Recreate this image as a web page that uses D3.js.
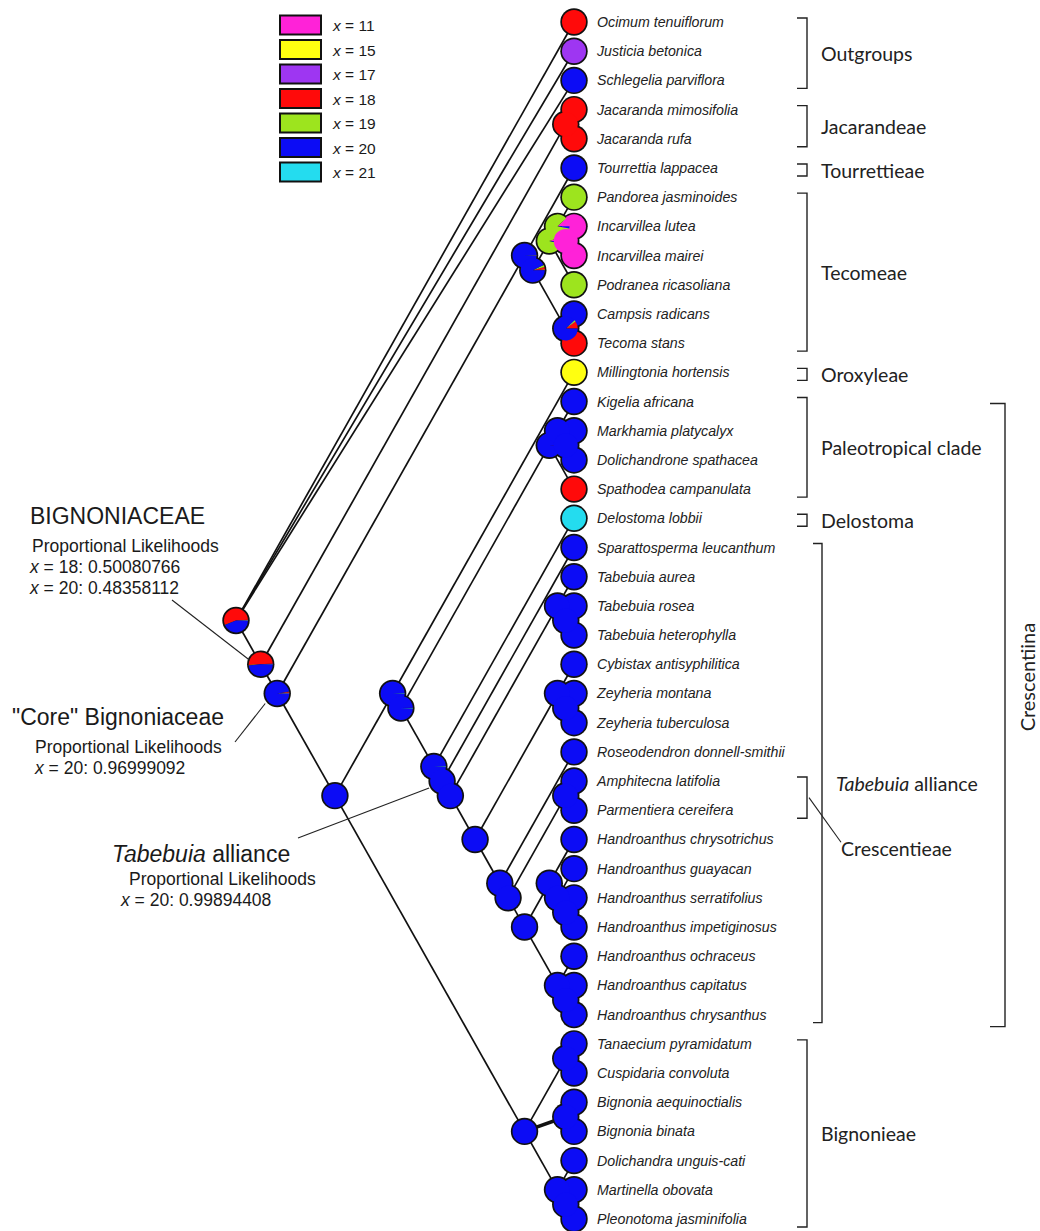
<!DOCTYPE html>
<html>
<head>
<meta charset="UTF-8">
<title>Bignoniaceae chromosome number reconstruction</title>
<script src="https://d3js.org/d3.v7.min.js"></script>
<style>
  body { margin: 0; background: #fff; }
  .tip text { font: italic 14.2px "Liberation Sans", Arial, sans-serif; fill: #222; }
  .clade text { font: 19.5px Lato, sans-serif; fill: #222; }
  .note text { font-family: "Liberation Sans", Arial, sans-serif; fill: #1a1a1a; }
  .legend text { font: 15.5px "Liberation Sans", Arial, sans-serif; fill: #1a1a1a; }
</style>
</head>
<body>
<script>
// ---- data ----
const taxa = [
  "Ocimum tenuiflorum", "Justicia betonica", "Schlegelia parviflora",
  "Jacaranda mimosifolia", "Jacaranda rufa", "Tourrettia lappacea",
  "Pandorea jasminoides", "Incarvillea lutea", "Incarvillea mairei",
  "Podranea ricasoliana", "Campsis radicans", "Tecoma stans",
  "Millingtonia hortensis", "Kigelia africana", "Markhamia platycalyx",
  "Dolichandrone spathacea", "Spathodea campanulata", "Delostoma lobbii",
  "Sparattosperma leucanthum", "Tabebuia aurea", "Tabebuia rosea",
  "Tabebuia heterophylla", "Cybistax antisyphilitica", "Zeyheria montana",
  "Zeyheria tuberculosa", "Roseodendron donnell-smithii", "Amphitecna latifolia",
  "Parmentiera cereifera", "Handroanthus chrysotrichus", "Handroanthus guayacan",
  "Handroanthus serratifolius", "Handroanthus impetiginosus", "Handroanthus ochraceus",
  "Handroanthus capitatus", "Handroanthus chrysanthus", "Tanaecium pyramidatum",
  "Cuspidaria convoluta", "Bignonia aequinoctialis", "Bignonia binata",
  "Dolichandra unguis-cati", "Martinella obovata", "Pleonotoma jasminifolia"
];

// chromosome number x observed at each tip
const tipState = [18, 17, 20, 18, 18, 20, 19, 11, 11, 19, 20, 18, 15, 20, 20, 20, 18, 21,
  20, 20, 20, 20, 20, 20, 20, 20, 20, 20, 20, 20, 20, 20, 20, 20, 20, 20, 20, 20, 20, 20, 20, 20];

const states = [11, 15, 17, 18, 19, 20, 21];
const stateColors = ["#ff22d8", "#ffff10", "#9e36f2", "#ff0a0a", "#9de41e", "#0c0cf5", "#24dcef"];

// topology, tips given by their index in taxa
const tree = [0, 1, 2,
  [[3, 4],
   [[5, [[[6, [7, 8]], 9], [10, 11]]],
    [[12, [[[13, [14, 15]], 16],
           [17, [18, [[19, [20, 21]],
                      [[22, [23, 24]],
                       [25, [[26, 27],
                             [[28, [29, [30, 31]]], [32, [33, 34]]]]]]]]]]],
     [[35, 36], [37, 38], [39, [40, 41]]]]]]];

// proportional likelihoods at internal nodes (key = first-last tip), order as states
const nodePies = [
  ["0-41",  [0.004, 0.002, 0.003, 0.55, 0.003, 0.435, 0.003]],
  ["3-41",  [0.006, 0.002, 0.002, 0.50080766, 0.004, 0.48358112, 0.002]],
  ["3-4",   [0, 0, 0, 1, 0, 0, 0]],
  ["5-41",  [0.008, 0.002, 0.002, 0.012, 0.004, 0.96999092, 0.002]],
  ["5-11",  [0.004, 0, 0, 0.002, 0.002, 0.99, 0.002]],
  ["6-11",  [0.004, 0.008, 0, 0.03, 0.03, 0.926, 0.002]],
  ["6-9",   [0.05, 0, 0, 0, 0.92, 0.03, 0]],
  ["6-8",   [0.12, 0, 0, 0, 0.85, 0.03, 0]],
  ["7-8",   [1, 0, 0, 0, 0, 0, 0]],
  ["10-11", [0, 0, 0, 0.1, 0.02, 0.88, 0]],
  ["12-34", [0.004, 0, 0, 0, 0, 0.99, 0.006]],
  ["13-34", [0.004, 0, 0, 0, 0, 0.99, 0.006]],
  ["13-16", [0.01, 0, 0, 0, 0, 0.99, 0]],
  ["17-34", [0.003, 0, 0, 0, 0, 0.99, 0.007]],
  ["18-34", [0.0005, 0, 0, 0.0005, 0, 0.99894408, 0.00005]]
];

const thickBranches = ["37-38"];

// [label, first tip, last tip, column, label dy]
const clades = [
  ["Outgroups", 0, 2, 0, 0],
  ["Jacarandeae", 3, 4, 0, 0],
  ["Tourrettieae", 5, 5, 0, 0],
  ["Tecomeae", 6, 11, 0, 0],
  ["Oroxyleae", 12, 12, 0, 0],
  ["Paleotropical clade", 13, 16, 0, 0],
  ["Delostoma", 17, 17, 0, 0],
  ["*Tabebuia* alliance", 18, 34, 1, 0],
  ["Bignonieae", 35, 41, 0, 0],
  ["Crescentiina", 13, 34, 2, -38]
];
const subClade = ["Crescentieae", 26, 27];

const legendRows = states.map((s, i) => ({ label: " = " + s, color: stateColors[i] }));

// ---- layout ----
const W = 1040, H = 1231;
const svg = d3.select("body").append("svg").attr("width", W).attr("height", H);

const y = d3.scaleLinear().domain([0, taxa.length - 1]).range([22, 1219]);
const x = d3.scaleLinear().domain([0, taxa.length - 1]).range([574, 236]);

const root = d3.hierarchy(tree, d => Array.isArray(d) ? d : null);
root.eachAfter(n => {
  if (!n.children) { n.lo = n.hi = n.data; }
  else { n.lo = d3.min(n.children, c => c.lo); n.hi = d3.max(n.children, c => c.hi); }
});
root.each(n => {
  n.key = n.lo + "-" + n.hi;
  n.px = x(n.hi - n.lo);
  n.py = (y(n.lo) + y(n.hi)) / 2;
});
const pieMap = new Map(nodePies);
const byKey = new Map(root.descendants().map(n => [n.key, n]));

// branches
svg.append("g").attr("class", "branches")
  .selectAll("line").data(root.links()).join("line")
  .attr("x1", d => d.source.px).attr("y1", d => d.source.py)
  .attr("x2", d => d.target.px).attr("y2", d => d.target.py)
  .attr("stroke", "#111")
  .attr("stroke-width", d => thickBranches.includes(d.target.key) ? 3.6 : 1.7);

// pies: tips first, then nodes root-first so deeper nodes sit on top
const leaves = root.leaves();
const internals = root.descendants().filter(n => n.children);
const marks = leaves.concat(internals);
marks.forEach(n => {
  if (!n.children) n.probs = states.map(s => s === tipState[n.data] ? 1 : 0);
  else n.probs = pieMap.get(n.key) || states.map(s => s === 20 ? 1 : 0);
});

const R = 12;
svg.append("g").attr("class", "outlines")
  .selectAll("circle").data(marks).join("circle")
  .attr("cx", d => d.px).attr("cy", d => d.py).attr("r", R + 1.7)
  .attr("fill", "#111");

const pie = d3.pie().sort(null).value(d => d)
  .startAngle(Math.PI / 2).endAngle(Math.PI / 2 - 2 * Math.PI);
const arc = d3.arc().innerRadius(0).outerRadius(R);

const pg = svg.append("g").attr("class", "pies")
  .selectAll("g").data(marks).join("g")
  .attr("transform", d => `translate(${d.px},${d.py})`);
pg.selectAll("path").data(d => pie(d.probs).filter(a => a.value > 0)).join("path")
  .attr("d", arc)
  .attr("fill", a => stateColors[a.index]);

// tip labels
svg.append("g").attr("class", "tip")
  .selectAll("text").data(leaves).join("text")
  .attr("x", 597).attr("y", d => d.py)
  .attr("dominant-baseline", "central")
  .text(d => taxa[d.data]);

// clade brackets
const colX = [807, 822, 1005], colTick = [10, 9, 15];
const cg = svg.append("g").attr("class", "clade");
function richText(sel, str) {
  str.split("*").forEach((part, i) => {
    if (part) sel.append("tspan").attr("font-style", i % 2 ? "italic" : null).text(part);
  });
}
clades.forEach(([name, a, b, col, dy]) => {
  const top = y(a) - 4 + (col === 2 ? 6 : 0), bot = y(b) + 8 + (col === 2 ? 4 : 0), bx = colX[col];
  cg.append("path")
    .attr("d", `M${bx - colTick[col]},${top}H${bx}V${bot}H${bx - colTick[col]}`)
    .attr("fill", "none").attr("stroke", "#222").attr("stroke-width", 1.4);
  const mid = (top + bot) / 2 + dy;
  if (col === 2) {
    const t = cg.append("text")
      .attr("transform", `translate(${bx + 22},${mid}) rotate(-90)`)
      .attr("text-anchor", "middle").attr("dominant-baseline", "central")
      .style("font-size", "20px");
    richText(t, name);
  } else {
    const t = cg.append("text").attr("x", bx + 14).attr("y", mid)
      .attr("dominant-baseline", "central");
    richText(t, name);
  }
});
{
  const [name, a, b] = subClade;
  const top = y(a) - 4, bot = y(b) + 8, bx = colX[0];
  cg.append("path")
    .attr("d", `M${bx - 10},${top}H${bx}V${bot}H${bx - 10}`)
    .attr("fill", "none").attr("stroke", "#222").attr("stroke-width", 1.4);
  cg.append("line")
    .attr("x1", bx + 2).attr("y1", (top + bot) / 2)
    .attr("x2", bx + 34).attr("y2", bot + 24)
    .attr("stroke", "#222").attr("stroke-width", 1.1);
  cg.append("text").attr("x", bx + 34).attr("y", bot + 30)
    .attr("dominant-baseline", "central").text(name);
}

// legend
const lg = svg.append("g").attr("class", "legend")
  .selectAll("g").data(legendRows).join("g")
  .attr("transform", (d, i) => `translate(280,${25 + 24.5 * i})`);
lg.append("rect").attr("x", 0).attr("y", -9.5).attr("width", 41).attr("height", 19)
  .attr("fill", d => d.color).attr("stroke", "#111").attr("stroke-width", 2);
const lt = lg.append("text").attr("x", 53).attr("y", 0).attr("dominant-baseline", "central");
lt.append("tspan").attr("font-style", "italic").text("x");
lt.append("tspan").text(d => d.label);

// node annotations
const notes = [
  { key: "3-41", title: "BIGNONIACEAE", tx: 30, ty: 524, size: 23,
    lines: [["Proportional Likelihoods", 32, 552], ["x = 18: 0.50080766", 30, 573], ["x = 20: 0.48358112", 30, 594]],
    from: [172, 600], to: [-11, -4] },
  { key: "5-41", title: "\"Core\" Bignoniaceae", tx: 12, ty: 725, size: 23,
    lines: [["Proportional Likelihoods", 35, 753], ["x = 20: 0.96999092", 35, 774]],
    from: [235, 742], to: [-12, 10] },
  { key: "18-34", title: "*Tabebuia* alliance", tx: 112, ty: 862, size: 23,
    lines: [["Proportional Likelihoods", 129, 885], ["x = 20: 0.99894408", 121, 906]],
    from: [298, 838], to: [-13, 7] }
];
const ng = svg.append("g").attr("class", "note");
notes.forEach(n => {
  const node = byKey.get(n.key);
  ng.append("line")
    .attr("x1", n.from[0]).attr("y1", n.from[1])
    .attr("x2", node.px + n.to[0]).attr("y2", node.py + n.to[1])
    .attr("stroke", "#222").attr("stroke-width", 1.1);
  const t = ng.append("text").attr("x", n.tx).attr("y", n.ty).style("font-size", n.size + "px");
  richText(t, n.title);
  n.lines.forEach(([str, lx, ly]) => {
    const s = ng.append("text").attr("x", lx).attr("y", ly).style("font-size", "17.5px");
    if (str.startsWith("x")) {
      s.append("tspan").attr("font-style", "italic").text("x");
      s.append("tspan").text(str.slice(1));
    } else s.text(str);
  });
});
</script>
</body>
</html>
